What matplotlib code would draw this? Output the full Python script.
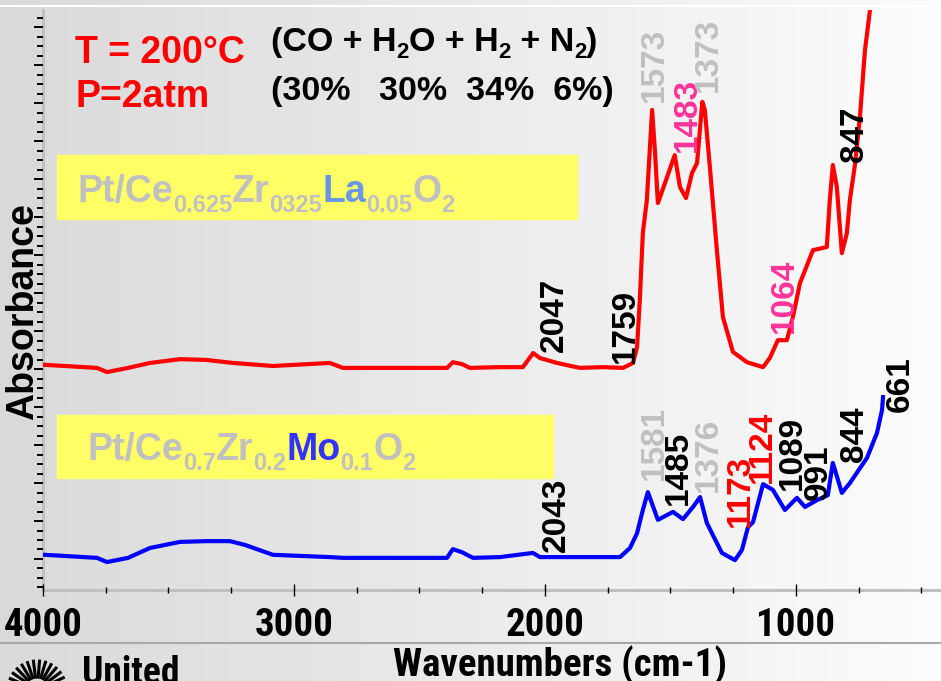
import numpy as np
import matplotlib
matplotlib.use("Agg")
import matplotlib.pyplot as plt
from matplotlib.ticker import MultipleLocator, NullFormatter

plt.rcParams['font.family'] = ['Liberation Sans', 'DejaVu Sans']
NARROW = ['Liberation Sans Narrow', 'Roboto Condensed', 'DejaVu Sans']

# spectra (wavenumber, absorbance)
red_wn = [3992, 3785, 3745, 3661, 3574, 3454, 3350, 3243, 3084, 2857, 2805, 2390, 2367,
          2331, 2299, 2179, 2088, 2047, 2020, 1952, 1861, 1769, 1689, 1649, 1633, 1622,
          1610, 1594, 1573, 1562, 1550, 1522, 1483, 1462, 1438, 1414, 1394, 1373, 1363,
          1343, 1315, 1291, 1251, 1195, 1131, 1104, 1072, 1036, 1012, 984, 932, 877, 865,
          853, 837, 817, 797, 785, 765, 745, 725, 705, 690]
red_abs = [0.511, 0.503, 0.492, 0.503, 0.516, 0.526, 0.524, 0.516, 0.508, 0.516, 0.503,
           0.503, 0.518, 0.513, 0.503, 0.505, 0.505, 0.542, 0.529, 0.516, 0.503, 0.505,
           0.503, 0.516, 0.558, 0.682, 0.858, 0.945, 1.182, 1.076, 0.937, 0.989, 1.063,
           0.979, 0.950, 1.016, 1.042, 1.203, 1.182, 1.032, 0.813, 0.637, 0.545, 0.518,
           0.505, 0.529, 0.576, 0.576, 0.637, 0.726, 0.813, 0.821, 0.945, 1.037, 0.979,
           0.805, 0.858, 0.945, 1.037, 1.163, 1.339, 1.445, 1.52]

blue_wn = [3992, 3785, 3745, 3661, 3574, 3454, 3350, 3255, 3195, 3084, 2857, 2805, 2390,
           2367, 2331, 2287, 2179, 2048, 2020, 1713, 1701, 1661, 1633, 1610, 1590, 1550,
           1490, 1450, 1410, 1382, 1355, 1331, 1295, 1243, 1215, 1191, 1171, 1131, 1092,
           1044, 996, 964, 916, 873, 853, 817, 785, 717, 677, 657, 653]
blue_abs = [0.011, 0.003, -0.008, 0.003, 0.029, 0.045, 0.047, 0.047, 0.037, 0.011, 0.005,
            0.003, 0.003, 0.026, 0.018, 0.003, 0.005, 0.016, 0.005, 0.005, 0.005, 0.029,
            0.068, 0.129, 0.176, 0.103, 0.124, 0.105, 0.137, 0.163, 0.095, 0.063, 0.016,
            -0.003, 0.024, 0.084, 0.097, 0.197, 0.182, 0.129, 0.161, 0.137, 0.155, 0.168,
            0.253, 0.174, 0.200, 0.266, 0.332, 0.392, 0.426]

# peak labels: text, colour, label position (wavenumber, absorbance)
red_labels = ['2047', '1759', '1573', '1483', '1373', '1064', '847']
red_label_col = ['black', 'black', '#c0c0c0', '#ff3399', '#c0c0c0', '#ff3399', 'black']
red_label_pos = [(1964, 0.545), (1681, 0.516), (1566, 1.203), (1434, 1.071),
                 (1347, 1.229), (1048, 0.595), (765, 1.045)]
blue_labels = ['2043', '1581', '1485', '1376', '1173', '1124', '1089', '991', '844', '661']
blue_label_col = ['black', '#c0c0c0', 'black', '#c0c0c0', 'red', 'red', 'black', 'black',
                  'black', 'black']
blue_label_pos = [(1956, 0.018), (1566, 0.208), (1470, 0.142), (1347, 0.176),
                  (1223, 0.084), (1132, 0.200), (1016, 0.182), (912, 0.155),
                  (765, 0.255), (586, 0.387)]

W, H = 941, 681
fig = plt.figure(figsize=(W / 100, H / 100), dpi=100)


def fx(x):
    return x / W


def fy(y):
    return 1 - y / H


# slide background, grey on the left fading to white
bg = fig.add_axes([0, 0, 1, 1], zorder=-5)
grad = np.linspace(0.85, 0.985, 256).reshape(1, -1)
bg.imshow(grad, aspect='auto', cmap='gray', vmin=0, vmax=1, extent=[0, 1, 0, 1])
bg.axis('off')
fig.add_artist(plt.Line2D([0, 1], [fy(6), fy(6)], color='white', lw=1.5))
fig.add_artist(plt.Line2D([0, 1], [fy(643), fy(643)], color='#a8a8a8', lw=1.5))

ax = fig.add_axes([fx(43), fy(590), 1 - fx(43), fy(10) - fy(590)])
ax.set_facecolor('none')
ax.plot(red_wn, red_abs, color='#ff0000', lw=3, solid_joinstyle='round')
ax.plot(blue_wn, blue_abs, color='#0000ff', lw=3, solid_joinstyle='round')
ax.set_xlim(4000, 422)
ax.set_ylim(-0.0816, 1.445)

for s in ['top', 'right']:
    ax.spines[s].set_visible(False)
for s in ['left', 'bottom']:
    ax.spines[s].set_color('#c0c0c0')
    ax.spines[s].set_linewidth(2.2)
    ax.spines[s].set_zorder(0.5)

ax.xaxis.set_major_locator(MultipleLocator(1000))
ax.xaxis.set_minor_locator(MultipleLocator(250))
ax.yaxis.set_major_locator(MultipleLocator(0.1))
ax.yaxis.set_minor_locator(MultipleLocator(0.025))
ax.yaxis.set_major_formatter(NullFormatter())
ax.tick_params(axis='x', which='major', direction='inout', length=8, width=1, pad=8)
ax.tick_params(axis='x', which='minor', direction='inout', length=5, width=1)
ax.tick_params(axis='y', which='major', direction='out', length=6.5, width=1.4)
ax.tick_params(axis='y', which='minor', direction='out', length=4.5, width=1.4)
for lab in ax.get_xticklabels():
    lab.set_family(NARROW)
    lab.set_fontstretch('condensed')
    lab.set_fontweight('bold')
    lab.set_fontsize(28)

for t, c, (w, v) in zip(red_labels, red_label_col, red_label_pos):
    ax.text(w, v, t, rotation=90, ha='center', va='bottom', color=c,
            fontsize=24, fontweight='bold', clip_on=False)
for t, c, (w, v) in zip(blue_labels, blue_label_col, blue_label_pos):
    ax.text(w, v, t, rotation=90, ha='center', va='bottom', color=c,
            fontsize=24, fontweight='bold', clip_on=False)

fig.text(fx(23), fy(312), 'Absorbance', rotation=90, ha='center', va='center',
         fontsize=27, fontweight='bold')
fig.text(fx(560), fy(676), 'Wavenumbers (cm-1)', ha='center', va='baseline',
         fontsize=28, fontweight='bold', family=NARROW, fontstretch='condensed')

fig.text(fx(75), fy(63), 'T = 200\u00b0C', color='#ff0000', fontsize=27, fontweight='bold',
         va='baseline')
fig.text(fx(75), fy(107), 'P=2atm', color='#ff0000', fontsize=27, fontweight='bold',
         va='baseline')

renderer = fig.canvas.get_renderer()


def write_pieces(x0, y0, pieces, size, sub_size, drop):
    x = x0
    for s, c, sub in pieces:
        t = fig.text(fx(x), fy(y0 + (drop if sub else 0)), s, color=c,
                     fontsize=sub_size if sub else size, fontweight='bold',
                     ha='left', va='baseline')
        x += t.get_window_extent(renderer).width


write_pieces(271, 51, [('(CO + H', 'black', False), ('2', 'black', True),
                       ('O + H', 'black', False), ('2', 'black', True),
                       (' + N', 'black', False), ('2', 'black', True),
                       (')', 'black', False)], 24.5, 16, 7)
fig.text(fx(271), fy(100), '(30%   30%  34%  6%)', fontsize=24.5, fontweight='bold',
         va='baseline')

# sample boxes
gray = '#c0c0c0'
fig.add_artist(plt.Rectangle((fx(57), fy(219)), fx(577) - fx(57), fy(155) - fy(219),
                             color='#ffff66', zorder=1))
fig.add_artist(plt.Rectangle((fx(57), fy(478)), fx(553) - fx(57), fy(415) - fy(478),
                             color='#ffff66', zorder=1))
write_pieces(77, 202, [('Pt/Ce', gray, False), ('0.625', gray, True), ('Zr', gray, False),
                       ('0325', gray, True), ('La', '#6b96e6', False), ('0.05', gray, True),
                       ('O', gray, False), ('2', gray, True)], 27, 17, 10)
write_pieces(87, 460, [('Pt/Ce', gray, False), ('0.7', gray, True), ('Zr', gray, False),
                       ('0.2', gray, True), ('Mo', '#3333ff', False), ('0.1', gray, True),
                       ('O', gray, False), ('2', gray, True)], 27, 17, 10)

# logo in the footer
for a in np.radians(np.arange(25, 170, 12)):
    cx, cy = 37, 690
    fig.add_artist(plt.Line2D([fx(cx + 13 * np.cos(a)), fx(cx + 29 * np.cos(a))],
                              [fy(cy - 13 * np.sin(a)), fy(cy - 29 * np.sin(a))],
                              color='black', lw=2.2))
fig.text(fx(82), fy(684), 'United', fontsize=27, fontweight='bold', family=NARROW,
         fontstretch='condensed', va='baseline')

fig.savefig('out.png', dpi=100)
